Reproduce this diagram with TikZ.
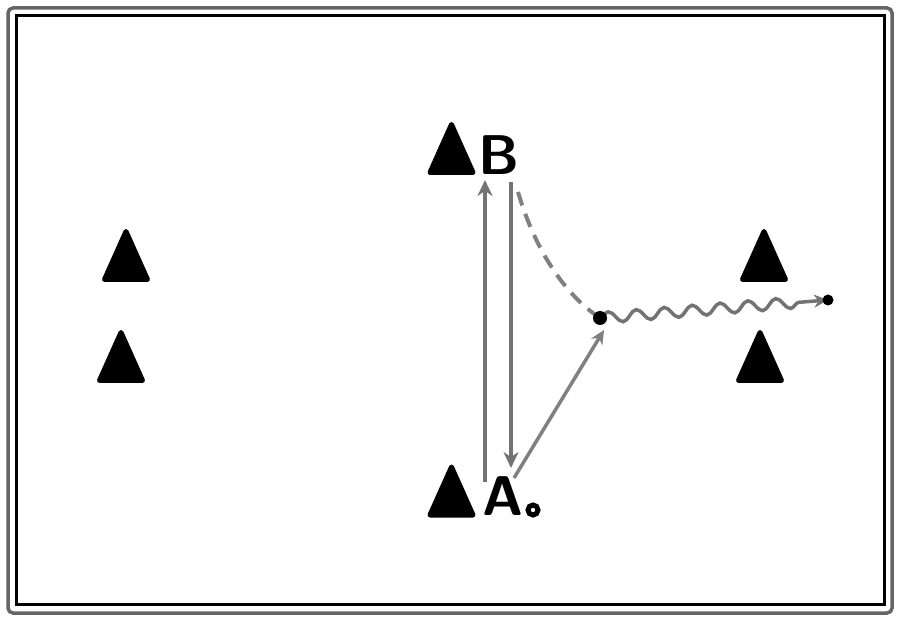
\documentclass[tikz,border=0pt]{standalone}
\usetikzlibrary{arrows.meta,decorations.pathmorphing}
\begin{document}
\begin{tikzpicture}[x=1pt,y=-1pt,
  cone/.pic={\draw[fill=black,line width=5pt,line join=round] (0,-24) -- (-21.5,24) -- (21.5,24) -- cycle;},
  lbl/.style={font=\sffamily\bfseries\fontsize{56}{56}\selectfont,inner sep=0pt},
  run/.style={draw=black!55,line width=4pt,-{Stealth[length=16pt,width=15pt]}},
  pass/.style={draw=black!50,line width=3.5pt,-{Stealth[length=14pt,width=13pt]}}]
\useasboundingbox (0,0) rectangle (900,620);
\draw[black!60,line width=3.5pt,rounded corners=5pt] (8,8) rectangle (892,613);
\draw[black,line width=3pt] (16,16) rectangle (884,604);
\pic (c1) at (126,255.5) {cone};
\pic (c2) at (121,356.5) {cone};
\pic (c3) at (451.5,148.5) {cone};
\pic (c4) at (451.5,491) {cone};
\pic (c5) at (764,255.5) {cone};
\pic (c6) at (760,356.5) {cone};
\node[lbl] (B) at (499,155) {B};
\node[lbl] (A) at (503,496) {A};
\node[circle,draw=black,line width=5pt,minimum size=10pt,inner sep=0pt] (ball) at (533,510) {};
\coordinate (a1) at (485,482);
\coordinate (b1) at (485,180);
\coordinate (b2) at (511,182);
\coordinate (a2) at (511,468);
\draw[run] (a1) -- (b1);
\draw[run] (b2) -- (a2);
\coordinate (p) at (600,318);
\coordinate (goal) at (828,300);
\draw[black!50,line width=4pt,dash pattern=on 14pt off 9pt] (518,192) .. controls (535,250) and (565,295) .. (p);
\draw[pass] (514,478) -- (604,330);
\draw[black!55,line width=3.5pt,decorate,decoration={snake,amplitude=5.5pt,segment length=28pt,post length=16pt},-{Stealth[length=14pt,width=13pt]}] (p) -- (goal);
\node[circle,fill=black,minimum size=14pt,inner sep=0pt] (pl) at (p) {};
\node[circle,fill=black,minimum size=11pt,inner sep=0pt] (g) at (goal) {};
\end{tikzpicture}
\end{document}
